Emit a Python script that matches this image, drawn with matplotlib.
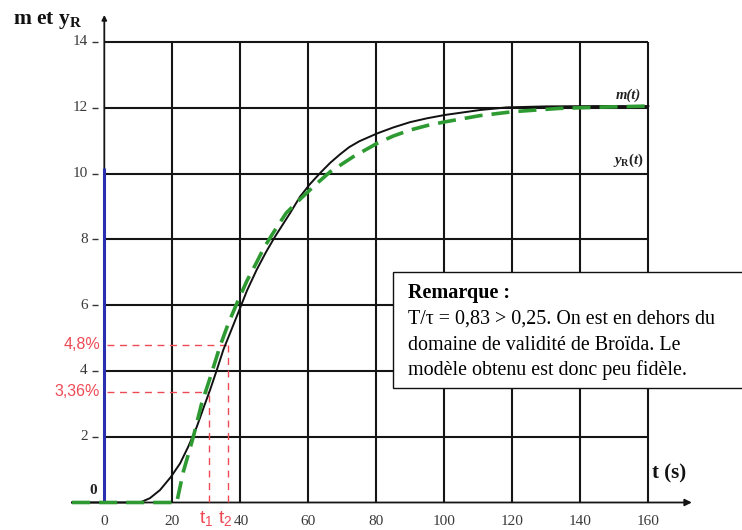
import matplotlib
matplotlib.use("Agg")
import matplotlib.pyplot as plt
from matplotlib.patches import Rectangle

plt.rcParams['mathtext.fontset'] = 'custom'
plt.rcParams['mathtext.rm'] = 'Liberation Serif:bold'
plt.rcParams['mathtext.it'] = 'Liberation Serif:italic:bold'
plt.rcParams['mathtext.bf'] = 'Liberation Serif:bold'
plt.rcParams['mathtext.sf'] = 'Liberation Sans'

# ---- data ----
m_t = [-9.5, 10.5, 13.4, 16.4, 19.6, 22.3, 24.7, 27.2, 29.3, 31.1, 33, 35, 37.5,
       39.7, 42, 44.8, 47.5, 50.2, 54.6, 57.6, 60.5, 63.9, 66.5, 69.3, 72, 75,
       80.3, 85, 89.9, 95, 100.2, 110.5, 118.4, 130, 145, 160]
m_y = [0, 0, 0.13, 0.38, 0.78, 1.19, 1.70, 2.30, 2.91, 3.42, 4.0, 4.64, 5.28,
       5.85, 6.45, 7.07, 7.6, 8.08, 8.79, 9.3, 9.68, 10.06, 10.33, 10.58, 10.8,
       10.98, 11.22, 11.4, 11.56, 11.68, 11.78, 11.93, 12.01, 12.04, 12.05, 12.05]

yr_t = [-9.5, 21.3, 23.2, 26.2, 28.6, 30.9, 34, 36.5, 39.4, 42, 44.8, 47, 49.7,
        53.5, 57.6, 62, 66.4, 73.2, 80.3, 85, 89.9, 95, 100.2, 110.5, 120.3,
        134, 147, 160]
yr_y = [0, 0, 0.92, 2.0, 3.0, 3.72, 4.74, 5.45, 6.15, 6.75, 7.3, 7.75, 8.2,
        8.8, 9.22, 9.65, 10.05, 10.51, 10.92, 11.14, 11.32, 11.46, 11.57, 11.76,
        11.88, 11.98, 12.02, 12.05]

x_ticks = [0, 20, 40, 60, 80, 100, 120, 140, 160]
y_ticks = [2, 4, 6, 8, 10, 12, 14]
t1, t2 = 30.9, 36.3
lvl1, lvl2 = 3.36, 4.8
blue_top = 10.17

W, H = 742, 530
fig = plt.figure(figsize=(W / 100, H / 100), dpi=100)
ax = fig.add_axes([0, 0, 1, 1])
ax.set_xlim(-30.68, 187.56)
ax.set_ylim(-0.836, 15.274)
ax.axis('off')

def fp(x, y):
    return (x / W, 1 - y / H)

serif = 'Liberation Serif'
lab_col = '#3a3a3a'

# grid
ax.hlines(y_ticks, 0, 160, colors='#151515', lw=1.5, zorder=1)
ax.vlines(x_ticks[1:], 0, 14, colors='#151515', lw=1.5, zorder=1)
# small ticks on left of y axis
ax.hlines(y_ticks, -3.6, -1.8, colors='#333333', lw=1.0, zorder=1)

# axes with arrows
ax.annotate('', xy=(172.8, 0), xytext=(-9.5, 0),
            arrowprops=dict(arrowstyle='-|>', color='#151515', lw=1.3,
                            mutation_scale=10, shrinkA=0, shrinkB=0), zorder=2)
ax.annotate('', xy=(0, 14.82), xytext=(0, 0),
            arrowprops=dict(arrowstyle='-|>', color='#151515', lw=1.3,
                            mutation_scale=7, shrinkA=0, shrinkB=0), zorder=2)
# blue step
ax.vlines([0], 0, blue_top, colors='#2a2fb0', lw=2.2, zorder=3)

# red construction lines
red = '#ee4a55'
ax.hlines([lvl2], 0.8, t2, colors=red, lw=1.0, linestyles=(0, (5, 4)), zorder=3)
ax.hlines([lvl1], 0.8, t1, colors=red, lw=1.0, linestyles=(0, (5, 4)), zorder=3)
ax.vlines([t1], 0, lvl1, colors=red, lw=1.0, linestyles=(0, (5, 4)), zorder=3)
ax.vlines([t2], 0, lvl2, colors=red, lw=1.0, linestyles=(0, (5, 4)), zorder=3)

# curves
ax.plot(m_t, m_y, color='#111111', lw=1.4, zorder=4, solid_joinstyle='round')
ax.plot(yr_t, yr_y, color='#2e9a32', lw=2.6, dashes=(5, 2.5), zorder=5)

# tick labels
for v in y_ticks:
    ax.text(-4.9, v, str(v), ha='right', va='center', family=serif,
            fontsize=11, color=lab_col)
ax.text(-3.3, 0.35, '0', ha='center', va='center', family=serif,
        fontsize=11, color='#222222', fontweight='bold')
for v in x_ticks:
    ax.text(v + (0.4 if v == 40 else 0), -0.57, str(v), ha='center', va='center',
            family=serif, fontsize=11, color=lab_col)
ax.text(-1.3, lvl2, '4,8%', ha='right', va='center', family='Liberation Sans',
        fontsize=11.5, color=red)
ax.text(-1.3, lvl1, '3,36%', ha='right', va='center', family='Liberation Sans',
        fontsize=11.5, color=red)
ax.text(30.1, -0.5, r'$\mathsf{t_1}$', ha='center', va='center',
        fontsize=14, color=red)
ax.text(35.6, -0.5, r'$\mathsf{t_2}$', ha='center', va='center',
        fontsize=14, color=red)

# curve labels
ax.text(154, 12.39, 'm(t)', ha='center', va='center', family=serif,
        style='italic', fontweight='bold', fontsize=10.5, color='#222222')
ax.text(154.3, 10.41, r'$y_{\mathrm{R}}(t)$', ha='center', va='center',
        fontsize=10.5, color='#222222')

# axis titles
fig.text(*fp(13, 24), r'm et y$_{\mathrm{R}}$', ha='left', va='baseline',
         family=serif, fontweight='bold', fontsize=15.5, color='#111111')
fig.text(*fp(652, 478), 't (s)', ha='left', va='baseline',
         family=serif, fontweight='bold', fontsize=15, color='#111111')

# remark box
x0, y0 = fp(392.7, 388)
x1, y1 = fp(745, 271.7)
rect = Rectangle((x0, y0), x1 - x0, y1 - y0, transform=fig.transFigure,
                 facecolor='white', edgecolor='#111111', lw=1.0, zorder=10,
                 clip_on=False)
fig.add_artist(rect)
fig.text(*fp(408, 298), 'Remarque :', ha='left', va='baseline', family=serif,
         fontweight='bold', fontsize=14.5, color='black', zorder=11)
lines = ['T/\u03c4 = 0,83 > 0,25. On est en dehors du',
         'domaine de validit\u00e9 de Bro\u00efda. Le',
         'mod\u00e8le obtenu est donc peu fid\u00e8le.']
for i, s in enumerate(lines):
    fig.text(*fp(408, 324 + 25.5 * i), s, ha='left', va='baseline',
             family=serif, fontsize=14.4, color='black', zorder=11)

fig.savefig('out.png', dpi=100)
